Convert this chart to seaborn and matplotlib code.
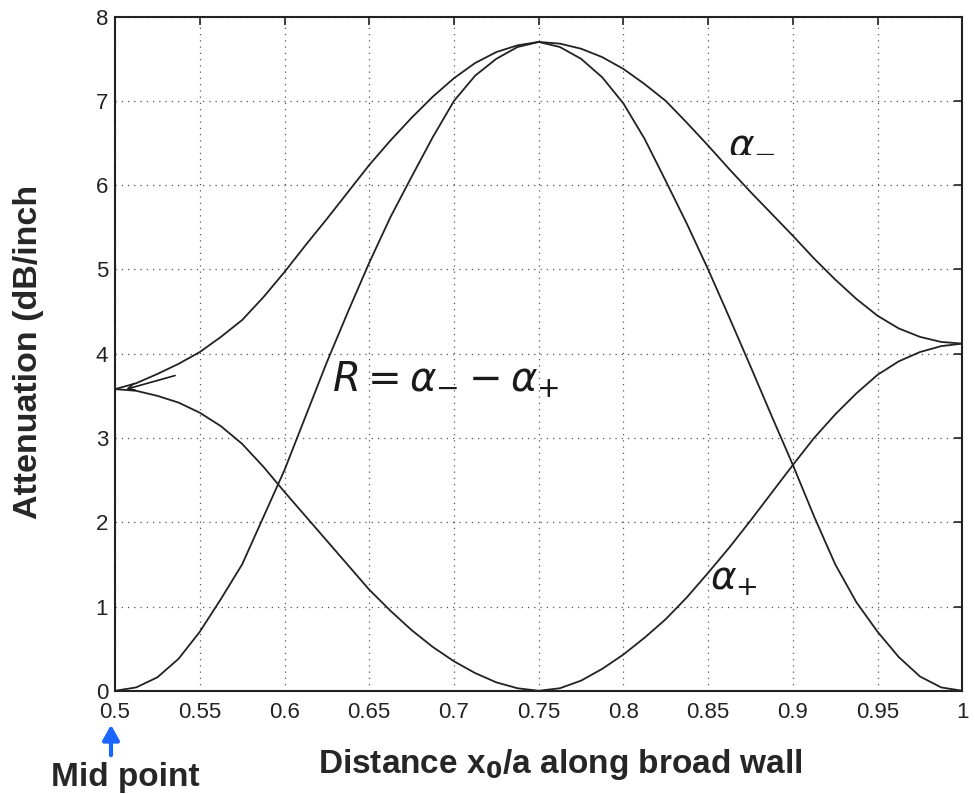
import numpy as np
import matplotlib
matplotlib.use("Agg")
import matplotlib.pyplot as plt
import seaborn as sns

# distance x0/a along the broad wall
x0 = [0.5, 0.5125, 0.525, 0.5375, 0.55, 0.5625, 0.575, 0.5875, 0.6, 0.6125,
      0.625, 0.6375, 0.65, 0.6625, 0.675, 0.6875, 0.7, 0.7125, 0.725, 0.7375,
      0.75, 0.7625, 0.775, 0.7875, 0.8, 0.8125, 0.825, 0.8375, 0.85, 0.8625,
      0.875, 0.8875, 0.9, 0.9125, 0.925, 0.9375, 0.95, 0.9625, 0.975, 0.9875,
      1.0]

# attenuation (dB/inch)
alpha_minus = [3.58, 3.65, 3.76, 3.88, 4.02, 4.20, 4.40, 4.67, 4.97, 5.29,
               5.60, 5.92, 6.24, 6.53, 6.80, 7.05, 7.27, 7.45, 7.58, 7.66,
               7.70, 7.68, 7.62, 7.52, 7.38, 7.20, 7.00, 6.74, 6.47, 6.19,
               5.92, 5.66, 5.40, 5.13, 4.88, 4.65, 4.45, 4.30, 4.20, 4.14,
               4.12]
alpha_plus = [3.58, 3.56, 3.50, 3.42, 3.30, 3.14, 2.93, 2.66, 2.36, 2.07,
              1.78, 1.49, 1.20, 0.95, 0.72, 0.52, 0.35, 0.21, 0.10, 0.03,
              0.0, 0.03, 0.12, 0.26, 0.43, 0.63, 0.85, 1.11, 1.40, 1.70,
              2.02, 2.35, 2.68, 3.00, 3.28, 3.53, 3.75, 3.91, 4.02, 4.09,
              4.12]
ratio_R = [0.0, 0.04, 0.16, 0.38, 0.70, 1.09, 1.50, 2.06, 2.62, 3.26,
           3.90, 4.50, 5.08, 5.62, 6.10, 6.57, 7.00, 7.30, 7.50, 7.64,
           7.70, 7.64, 7.50, 7.28, 6.97, 6.55, 6.05, 5.54, 5.00, 4.43,
           3.85, 3.26, 2.68, 2.07, 1.50, 1.05, 0.70, 0.40, 0.17, 0.04,
           0.0]

xticks = [0.5, 0.55, 0.6, 0.65, 0.7, 0.75, 0.8, 0.85, 0.9, 0.95, 1.0]
yticks = [0, 1, 2, 3, 4, 5, 6, 7, 8]

sns.set_theme(style="white")
plt.rcParams['font.family'] = ['Liberation Sans', 'DejaVu Sans']

fig = plt.figure(figsize=(9.75, 7.94), dpi=100)
ax = fig.add_axes([0.118, 0.130, 0.869, 0.849])

for ys in (alpha_minus, alpha_plus, ratio_R):
    sns.lineplot(x=x0, y=ys, color="#222222", linewidth=1.3, ax=ax)

ax.set_xlim(0.5, 1.0)
ax.set_ylim(0, 8)
ax.set_xticks(xticks)
ax.set_xticklabels(["%g" % t for t in xticks])
ax.set_yticks(yticks)
ax.grid(True, linestyle=(0, (1, 4)), color="#555555", linewidth=0.9)
ax.tick_params(direction="in", top=True, right=True, length=6, width=1.2,
               labelsize=16, colors="#222222")
ax.tick_params(axis="x", pad=8)
ax.tick_params(axis="y", pad=5)
for s in ax.spines.values():
    s.set_color("#222222")
    s.set_linewidth(1.5)

ax.set_xlabel("")
ax.set_ylabel("")
fig.text(0.029, 0.557, "Attenuation (dB/inch", rotation=90, fontsize=24.5,
         fontweight="bold", ha="center", va="center")
fig.text(0.575, 0.027, "Distance x$_\\mathbf{0}$/a along broad wall", fontsize=24,
         fontweight="bold", ha="center", va="baseline")
fig.text(0.129, 0.0095, "Mid point", fontsize=24, fontweight="bold",
         ha="center", va="baseline")
fig.patches.append(matplotlib.patches.FancyArrowPatch(
    (111, 794 - 758), (111, 794 - 722), transform=None,
    arrowstyle="-|>,head_width=5,head_length=9", color="#1a66ff", lw=3))

# handwritten notes
ax.text(0.628, 3.55, r"$R = \alpha_{-} - \alpha_{+}$", fontsize=29, color="k")
ax.text(0.862, 6.4, r"$\alpha_{-}$", fontsize=28, color="k")
ax.text(0.851, 1.2, r"$\alpha_{+}$", fontsize=28, color="k")
ax.annotate("", xy=(0.505, 3.57), xytext=(0.537, 3.75),
            arrowprops=dict(arrowstyle="->", color="k", lw=1.2))

fig.savefig("out.png", dpi=100)
